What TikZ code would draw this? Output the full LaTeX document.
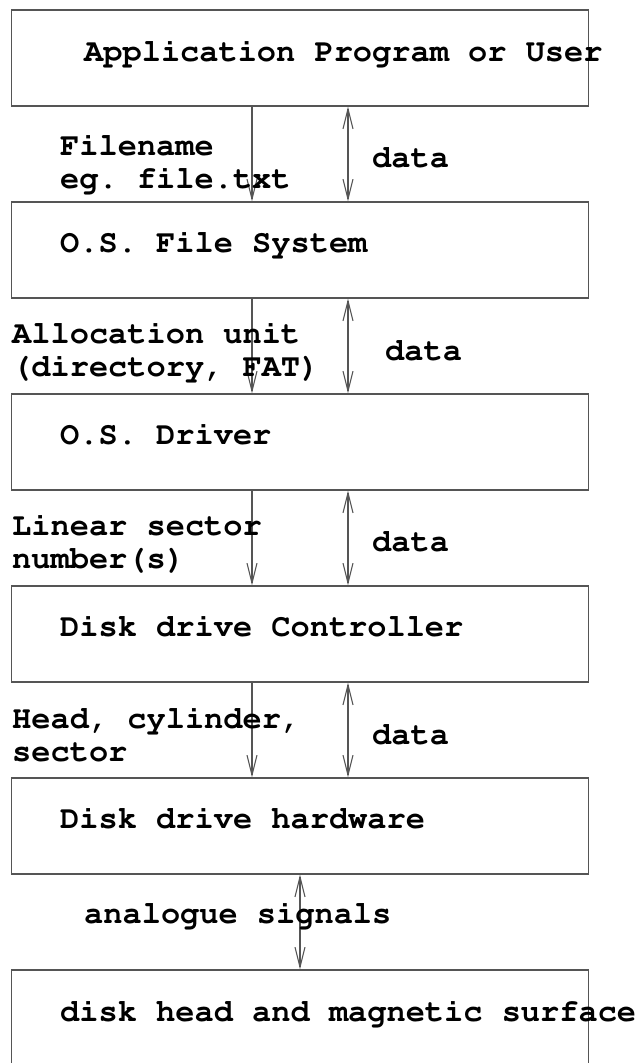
\documentclass[tikz,border=0pt]{standalone}
\usepackage[T1]{fontenc}
\usetikzlibrary{arrows.meta}
\definecolor{edge}{RGB}{85,85,85}
\newcommand\labelfont{\fontencoding{T1}\fontfamily{pcr}\fontseries{b}\fontsize{32}{32}\selectfont\frenchspacing}
\tikzset{
  layer/.style={draw=edge, line width=1.2pt, minimum width=577pt, minimum height=96pt, inner sep=0pt},
  lbl/.style={anchor=base west, inner sep=0pt, font=\labelfont},
  flow/.style={draw=edge, line width=1.1pt, -{Straight Barb[length=20pt,width=10pt]}},
  both/.style={draw=edge, line width=1.1pt, {Straight Barb[length=20pt,width=10pt]}-{Straight Barb[length=20pt,width=10pt]}}
}
\begin{document}
\begin{tikzpicture}[x=1pt, y=-1pt]
\useasboundingbox (0,0) rectangle (640,1063);
\clip (0,0) rectangle (640,1063);

% the stack of layers
\node[layer] (app)  at (300,58)   {};
\node[layer] (fs)   at (300,250)  {};
\node[layer] (drv)  at (300,442)  {};
\node[layer] (ctl)  at (300,634)  {};
\node[layer] (hw)   at (300,826)  {};
\node[layer] (surf) at (300,1018) {};

% layer names
\node[lbl] (tapp)  at (84,61)   {Application Program or User};
\node[lbl] (tfs)   at (60,252)  {O.S. File System};
\node[lbl] (tdrv)  at (60,444)  {O.S. Driver};
\node[lbl] (tctl)  at (60,636)  {Disk drive Controller};
\node[lbl] (thw)   at (60,828)  {Disk drive hardware};
\node[lbl] (tsurf) at (60,1021) {disk head and magnetic surface};

% columns of the connectors
\coordinate (req) at (252,0);
\coordinate (dat) at (348,0);
\coordinate (sig) at (300,0);

% requests going down, data going both ways
\draw[flow] (app.south -| req) -- (fs.north -| req);
\draw[both] (app.south -| dat) -- (fs.north -| dat);
\draw[flow] (fs.south -| req)  -- (drv.north -| req);
\draw[both] (fs.south -| dat)  -- (drv.north -| dat);
\draw[flow] (drv.south -| req) -- (ctl.north -| req);
\draw[both] (drv.south -| dat) -- (ctl.north -| dat);
\draw[flow] (ctl.south -| req) -- (hw.north -| req);
\draw[both] (ctl.south -| dat) -- (hw.north -| dat);
\draw[both] (hw.south -| sig)  -- (surf.north -| sig);

% connector labels
\node[lbl] (r1a) at (60,155)  {Filename};
\node[lbl] (r1b) at (60,188)  {eg. file.txt};
\node[lbl] (d1)  at (372,167) {data};
\node[lbl] (r2a) at (12,343)  {Allocation unit};
\node[lbl] (r2b) at (12,376)  {(directory, FAT)};
\node[lbl] (d2)  at (385,360) {data};
\node[lbl] (r3a) at (12,535)  {Linear sector};
\node[lbl] (r3b) at (12,568)  {number(s)};
\node[lbl] (d3)  at (372,551) {data};
\node[lbl] (r4a) at (12,728)  {Head, cylinder,};
\node[lbl] (r4b) at (12,761)  {sector};
\node[lbl] (d4)  at (372,744) {data};
\node[lbl] (s5)  at (84,923)  {analogue signals};
\end{tikzpicture}
\end{document}
